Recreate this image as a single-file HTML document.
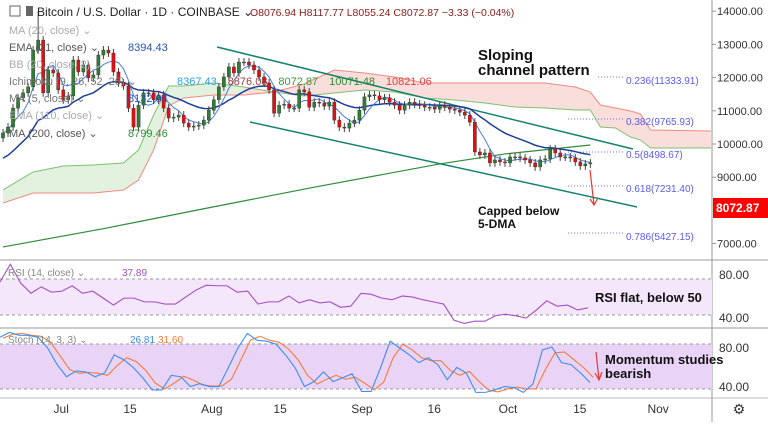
<!DOCTYPE html>
<html><head><meta charset="utf-8"><style>
body{margin:0;background:#fff;font-family:"Liberation Sans",sans-serif;}
svg text{font-family:"Liberation Sans",sans-serif;}
</style></head><body>
<svg id="c" width="768" height="422" viewBox="0 0 768 422" xmlns="http://www.w3.org/2000/svg"></svg>
<script>
const closes=[10330,10510,11080,11390,11540,11720,12830,13130,11540,12230,12140,11630,11330,11450,12530,12170,12380,11990,12080,12680,12830,12740,12170,11840,11750,11080,10510,11170,11540,11540,11330,11480,11080,10780,10810,10870,10630,10510,10540,10570,10720,11020,11330,11720,12020,12320,12140,12470,12470,12380,12230,12020,11840,11630,10930,11170,11200,11080,11080,11630,11570,11110,11260,11230,11140,11260,10720,10510,10480,10630,10720,11020,11420,11480,11450,11330,11390,11260,11170,11020,11170,11260,11200,11170,11110,11110,11050,11170,11110,11050,11020,10960,10870,10660,9760,9670,9730,9430,9520,9460,9430,9610,9610,9580,9520,9430,9310,9520,9550,9850,9730,9610,9610,9580,9460,9340,9400,9430];
const spanIdx=[0,6,12,18,24,27,30,33,36,42,48,54,60,66,72,78,84,90,96,102,108,114,117,119,122,125,127,129,141];
const spanA=[8615,9157,9337,9367,9428,9819,10873,11747,11747,11837,11717,11566,11446,11536,11626,11566,11386,11325,11235,11114,11084,11024,11024,10512,10482,10211,10120,9880,9880];
const spanB=[8223,8524,8524,8524,8615,8916,9819,11145,11386,11476,11476,11566,11807,12229,12139,12018,11837,11837,11837,11837,11837,11717,11566,11175,11084,10994,10904,10422,10392];
const ma200Idx=[0,20,40,62,87,100,117];
const ma200=[6900,7450,8050,8700,9400,9700,9970];
const priceTicks=[14000,13000,12000,11000,10000,9000,7000];
const rsi=[73.5,90,72.5,63,69,64,65,70,63,65,58.5,52,58.5,58.5,55,55,53,53,59.5,66,70.5,70,70,64,65,53,55,55,60.5,54,57,54,55,50,51,63,62,58.5,57,60.5,59.5,57,55,53,38,35,37,37,42,43.5,42,40,47.5,56,51,52,47.5,49.5];
const stochK=[91,96,93,93,91,80,63,50.5,56.5,55.5,50.5,54.5,73,68,60,49.5,37,37,52,50.5,40.5,43.5,40.5,40.5,60,80,95,88,87,84,73,60,40.5,45.5,55.5,45.5,49.5,53.5,35.5,35.5,60,87,80,73,65,70,63,47.5,60,54.5,34.5,34.5,37,40.5,39.5,34.5,43,78,81,65,63,54.5,44.5];
const stochD=[90,94,95,93,92,86,72,58,54,55,54,52,62,70,66,57,44,38,44,51,47,42,41,41,48,68,88,92,88,86,79,68,52,43,48,52,48,50,44,37,45,70,84,78,70,67,67,57,52,56,46,37,35,38,40,38,38,58,75,76,68,60,50];
const timeLabels=["Jul","15","Aug","15","Sep","16","Oct","15","Nov"];
const timeIdx=[11.6,25.3,41.6,55.2,71.5,85.9,100.6,114.9,130.5];

const svg=document.getElementById('c');
const NS='http://www.w3.org/2000/svg';
function el(t,a,p){const e=document.createElementNS(NS,t);for(const k in a)e.setAttribute(k,a[k]);(p||svg).appendChild(e);return e;}
const X=i=>3+i*5.02;
const Y=p=>144-(p-10000)/30.12;
const RY=v=>275+(80-v)*1.075;
const SY=v=>348+(80-v)*0.975;

let g=el('g',{});


let cloudTop=[],cloudBot=[];
for(let i=0;i<spanIdx.length;i++){cloudTop.push(X(spanIdx[i])+','+Y(spanA[i]));}
for(let i=spanIdx.length-1;i>=0;i--){cloudBot.push(X(spanIdx[i])+','+Y(spanB[i]));}
let cl=el('polygon',{points:cloudTop.concat(cloudBot).join(' '),fill:'#f9dedb'},g);


let gp=[];for(let i=0;i<=10;i++)gp.push(X(spanIdx[i])+','+Y(spanA[i]));
for(let i=10;i>=0;i--)gp.push(X(spanIdx[i])+','+Y(spanB[i]));
el('polygon',{points:gp.join(' '),fill:'#e3f2df'},g);
let la=el('polyline',{points:spanIdx.map((s,i)=>X(s)+','+Y(spanA[i])).join(' '),fill:'none',stroke:'#7fbf73','stroke-width':1},g);


let lb=el('polyline',{points:spanIdx.map((s,i)=>X(s)+','+Y(spanB[i])).join(' '),fill:'none',stroke:'#f08a80','stroke-width':1},g);


let m2=el('polyline',{points:ma200Idx.map((s,i)=>X(s)+','+Y(ma200[i])).join(' '),fill:'none',stroke:'#2e8b3a','stroke-width':1.2},g);


let c1=el('line',{x1:217,y1:47,x2:633,y2:149,stroke:'#15826e','stroke-width':1.5},g);


let c2=el('line',{x1:250,y1:122,x2:637,y2:207,stroke:'#15826e','stroke-width':1.5},g);


const fibs=[[77,598,"0.236(11333.91)",84],[119,568,"0.382(9765.93)",125],[152,568,"0.5(8498.67)",158],[186,568,"0.618(7231.40)",192],[233,568,"0.786(5427.15)",240]];
fibs.forEach(f=>{let l=el('line',{x1:f[1],y1:f[0],x2:623,y2:f[0],stroke:'#6f6ff0','stroke-width':1,'stroke-dasharray':'1,2'},g);


let t=el('text',{x:626,y:f[3],'font-size':10,fill:'#5b5bef'},g);t.textContent=f[2];

});
let ema=[],e=9500;closes.forEach(c=>{e=e+(c-e)*2/22;ema.push(e);});
let ml=el('polyline',{points:ema.map((v,i)=>X(i)+','+Y(v)).join(' '),fill:'none',stroke:'#1d3f9a','stroke-width':1.5},g);


let ma5=closes.map((c,i)=>{let s=0,n=0;for(let k=Math.max(0,i-4);k<=i;k++){s+=closes[k];n++;}return s/n;});
let m5=el('polyline',{points:ma5.map((v,i)=>X(i)+','+Y(v)).join(' '),fill:'none',stroke:'#4a7fd8','stroke-width':1},g);


closes.forEach((c,i)=>{const o=i?closes[i-1]:c-150;const up=c>=o;const col=up?'#2e7d32':'#e01010';
const hi=Math.max(o,c)+(i==7?870:120),lo=Math.min(o,c)-120;
let w=el('line',{x1:X(i),x2:X(i),y1:Y(hi),y2:Y(lo),stroke:'#444','stroke-width':1},g);


let b=el('rect',{x:X(i)-1.6,width:3.2,y:Math.min(Y(o),Y(c)),height:Math.max(1,Math.abs(Y(o)-Y(c))),fill:col,stroke:'#333','stroke-width':0.4},g);

});
let a1=el('text',{x:478,y:60,'font-size':15,'font-weight':'bold',fill:'#111'});a1.textContent='Sloping';


let a2=el('text',{x:478,y:75,'font-size':15,'font-weight':'bold',fill:'#111'});a2.textContent='channel pattern';


let a3=el('text',{x:478,y:215,'font-size':12,'font-weight':'bold',fill:'#111'});a3.textContent='Capped below';


let a4=el('text',{x:478,y:228,'font-size':12,'font-weight':'bold',fill:'#111'});a4.textContent='5-DMA';


el('path',{d:'M590,170 L594,205 M590,199 L594,205 L598,198',stroke:'#e53935',fill:'none','stroke-width':1.2});

el('line',{x1:0,y1:260,x2:768,y2:260,stroke:'#999'});
el('line',{x1:0,y1:328,x2:768,y2:328,stroke:'#999'});
el('line',{x1:0,y1:398,x2:768,y2:398,stroke:'#bbb'});
el('line',{x1:712,y1:0,x2:712,y2:422,stroke:'#999'});
priceTicks.forEach(p=>{el('line',{x1:712,x2:716,y1:Y(p),y2:Y(p),stroke:'#999'});
let t=el('text',{x:717,y:Y(p)+4,'font-size':11,fill:'#333'});t.textContent=p.toFixed(2);

});
let pl=el('rect',{x:713,y:Y(8072.87)-10,width:55,height:20,fill:'#f00'});


let plt=el('text',{x:716,y:Y(8072.87)+4,'font-size':12,'font-weight':'bold',fill:'#fff'});plt.textContent='8072.87';

el('rect',{x:0,y:279,width:712,height:36,fill:'#f4e6fb'});
el('line',{x1:0,x2:712,y1:279,y2:279,stroke:'#999','stroke-dasharray':'3,3'});
el('line',{x1:0,x2:712,y1:315,y2:315,stroke:'#999','stroke-dasharray':'3,3'});
let rl=el('polyline',{points:rsi.map((v,i)=>(i*588/(rsi.length-1))+','+RY(v)).join(' '),fill:'none',stroke:'#a64fc2','stroke-width':1.1});


[[80,275],[40,318]].forEach(r=>{let t=el('text',{x:719,y:r[1]+4,'font-size':12,fill:'#333'});t.textContent=r[0].toFixed(2);});
let rt=el('text',{x:595,y:302,'font-size':13,'font-weight':'bold',fill:'#111'});rt.textContent='RSI flat, below 50';


let rleg=el('text',{x:8,y:276,'font-size':10,fill:'#888'});rleg.textContent='RSI (14, close) ⌄';
let rv=el('text',{x:122,y:276,'font-size':10,fill:'#a64fc2'});rv.textContent='37.89';

el('rect',{x:0,y:344,width:712,height:45,fill:'#e9d4f7'});
el('line',{x1:0,x2:712,y1:344,y2:344,stroke:'#999','stroke-dasharray':'3,3'});
el('line',{x1:0,x2:712,y1:389,y2:389,stroke:'#999','stroke-dasharray':'3,3'});
let dl=el('polyline',{points:stochD.map((v,i)=>(3+i*590/(stochD.length-1))+','+SY(v)).join(' '),fill:'none',stroke:'#f57c3a','stroke-width':1.1});


let kl=el('polyline',{points:stochK.map((v,i)=>(i*590/(stochK.length-1))+','+SY(v)).join(' '),fill:'none',stroke:'#3d8ef0','stroke-width':1.1});


[[80,348],[40,387]].forEach(r=>{let t=el('text',{x:719,y:r[1]+4,'font-size':12,fill:'#333'});t.textContent=r[0].toFixed(2);});
let st=el('text',{x:605,y:364,'font-size':13,'font-weight':'bold',fill:'#111'});st.textContent='Momentum studies';


let st2=el('text',{x:605,y:378,'font-size':13,'font-weight':'bold',fill:'#111'});st2.textContent='bearish';
el('path',{d:'M596,352 L599,380 M595,373 L599,380 L602,372',stroke:'#e53935',fill:'none','stroke-width':1.2});
let sleg=el('text',{x:8,y:343,'font-size':10,fill:'#888'});sleg.textContent='Stoch (14, 3, 3) ⌄';
let sk=el('text',{x:130,y:343,'font-size':10,fill:'#3d8ef0'});sk.textContent='26.81';
let sd=el('text',{x:158,y:343,'font-size':10,fill:'#f57c3a'});sd.textContent='31.60';

timeLabels.forEach((l,i)=>{let t=el('text',{x:X(timeIdx[i]),y:413,'font-size':12,fill:'#333','text-anchor':'middle'});t.textContent=l;

});
let gear=el('text',{x:739,y:414,'font-size':14,fill:'#333','text-anchor':'middle'});gear.textContent='⚙';



let h=el('text',{x:37,y:16,'font-size':12,fill:'#222'});h.textContent='Bitcoin / U.S. Dollar · 1D · COINBASE ⌄';


el('rect',{x:10,y:6,width:10,height:10,fill:'none',stroke:'#666'});
el('rect',{x:26,y:6,width:7,height:10,fill:'#666'});
let ohlc=el('text',{x:250,y:16,'font-size':10.5,fill:'#8b1a1a'});ohlc.textContent='O8076.94  H8117.77  L8055.24  C8072.87  −3.33 (−0.04%)';


const legends=[['MA (20, close) ⌄',30,'#aaa',''],['EMA (21, close) ⌄',47,'#555','8394.43'],['BB (20, close, 2) ⌄',64,'#aaa',''],['Ichimoku (9, 26, 52, 26) ⌄',81,'#777',''],['MA (5, close) ⌄',98,'#777','8132.04'],['EMA (110, close) ⌄',115,'#aaa',''],['MA (200, close) ⌄',133,'#555','8799.46']];
legends.forEach(l=>{let t=el('text',{x:9,y:l[1]+4,'font-size':11,fill:l[2]});t.textContent=l[0];


if(l[3]){let v=el('text',{x:128,y:l[1]+4,'font-size':11,fill:l[1]==133?'#2e8b3a':'#2a52be'});v.textContent=l[3];}});
const ichiVals=[['8367.43','#2aa0f0'],['8876.08','#a04040'],['8072.87','#3a9a3a'],['10071.48','#2e8b2e'],['10821.06','#e04040']];
let ix=177;ichiVals.forEach(v=>{let t=el('text',{x:ix,y:85,'font-size':11,fill:v[1]});t.textContent=v[0];ix+=v[0].length*6.1+8;});
</script>
</body></html>
